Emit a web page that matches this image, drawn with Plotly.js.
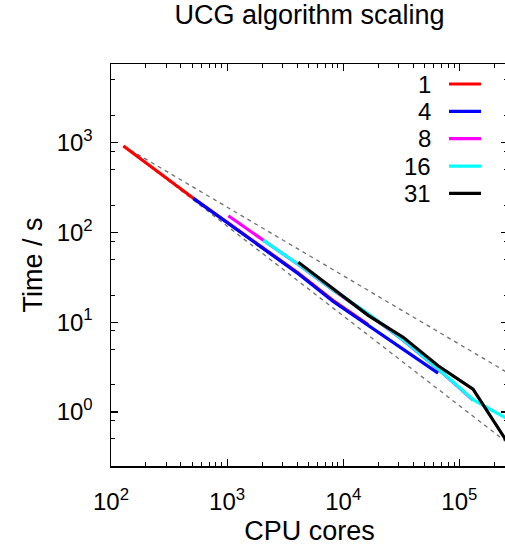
<!DOCTYPE html>
<html>
<head>
<meta charset="utf-8">
<script src="https://cdn.plot.ly/plotly-3.0.1.min.js"></script>
<style>
html, body { margin: 0; padding: 0; overflow: hidden; background: #fff; width: 505px; height: 546px; }
#chart { width: 516px; height: 546px; }
</style>
</head>
<body>
<div id="chart"></div>
<script>
// ---- data ----
const seriesNames = ["1", "4", "8", "16", "31"];
const seriesColors = ["#ff0000", "#0000ff", "#ff00ff", "#00ffff", "#000000"];

const coresS1 = [128, 256, 512, 1024, 2048, 4096, 8192, 16384];
const timeS1  = [917, 468, 240, 127, 67.5, 35.2, 17.4, 9.4];

const coresS4 = [512, 1024, 2048, 4096, 8192, 16384, 32768, 65536];
const timeS4  = [239, 126, 66.4, 34.6, 17.0, 9.2, 5.05, 2.71];

const coresS8 = [1024, 2048, 4096, 8192, 16384, 32768, 65536, 131072];
const timeS8  = [153, 82, 43.8, 22.7, 12.3, 6.3, 3.0, 1.36];

const coresS16 = [2048, 4096, 8192, 16384, 32768, 65536, 131072, 262144];
const timeS16  = [82, 44.1, 22.9, 12.4, 6.35, 3.03, 1.37, 0.83];

const coresS31 = [4096, 8192, 16384, 32768, 65536, 131072, 262144];
const timeS31  = [46.4, 23.4, 11.9, 6.78, 3.27, 1.79, 0.448];

// reference scaling lines (dashed)
const refCores = [128, 262144];
const refIdeal = [917, 0.448];
const refUpper = [917, 2.72];

// axis ticks
const xTickVals = [100, 1000, 10000, 100000];
const xTickText = ["10<sup>2</sup>", "10<sup>3</sup>", "10<sup>4</sup>", "10<sup>5</sup>"];
const xMinorVals = [200,300,400,500,600,700,800,900,
                    2000,3000,4000,5000,6000,7000,8000,9000,
                    20000,30000,40000,50000,60000,70000,80000,90000,
                    200000];
const yTickVals = [1, 10, 100, 1000];
const yTickText = ["10<sup>0</sup>", "10<sup>1</sup>", "10<sup>2</sup>", "10<sup>3</sup>"];
const yMinorVals = [0.5, 0.8, 2, 5, 8, 20, 50, 80, 200, 500, 800, 2000, 5000];

const titleText = "UCG algorithm scaling";
const xTitle = "CPU cores";
const yTitle = "Time / s";

// ---- build ----
const FONT = "Liberation Sans, Arial, Helvetica, sans-serif";
const seriesX = [coresS1, coresS4, coresS8, coresS16, coresS31];
const seriesY = [timeS1, timeS4, timeS8, timeS16, timeS31];

const traces = [];
[refIdeal, refUpper].forEach(function (ry) {
  traces.push({
    x: refCores, y: ry, type: "scatter", mode: "lines",
    line: { color: "#707070", width: 1.3, dash: "4px,4px" },
    hoverinfo: "skip", showlegend: false
  });
});
seriesNames.forEach(function (n, i) {
  traces.push({
    x: seriesX[i], y: seriesY[i], type: "scatter", mode: "lines", name: n,
    line: { color: seriesColors[i], width: 3.2 },
    showlegend: false
  });
});

// custom gnuplot-style key: text on the left, line sample on the right
const keyTop = 0.9502, keyStep = 0.0680;
const annotations = [];
const shapes = [];
seriesNames.forEach(function (n, i) {
  const yy = keyTop - i * keyStep;
  annotations.push({
    xref: "paper", yref: "paper", x: 0.8086, y: yy,
    xanchor: "right", yanchor: "middle", showarrow: false,
    borderpad: 0,
    text: n, font: { family: FONT, size: 24, color: "#000" }
  });
  shapes.push({
    type: "line", xref: "paper", yref: "paper",
    x0: 0.8514, x1: 0.932, y0: yy, y1: yy,
    line: { color: seriesColors[i], width: 3.2 }
  });
});

const axisCommon = {
  type: "log",
  showgrid: false, zeroline: false,
  showline: true, linecolor: "#000", linewidth: 1.5, mirror: "ticks",
  ticks: "inside", ticklen: 7, tickwidth: 1.2, tickcolor: "#000",
  tickmode: "array",
  tickfont: { family: FONT, size: 24, color: "#000" },
  automargin: false
};

const layout = {
  width: 516, height: 546,
  margin: { l: 111, r: 8, t: 64, b: 80 },
  paper_bgcolor: "#fff", plot_bgcolor: "#fff",
  showlegend: false,
  title: {
    text: titleText, x: 0.5, xref: "paper", xanchor: "center",
    y: 1 - 15 / 546, yref: "container", yanchor: "middle",
    font: { family: FONT, size: 27, color: "#000" }
  },
  xaxis: Object.assign({}, axisCommon, {
    range: [2, Math.log10(262144)],
    tickvals: xTickVals, ticktext: xTickText,
    ticklabelstandoff: 14,
    minor: { tickmode: "array", tickvals: xMinorVals, ticks: "inside", ticklen: 4, tickwidth: 1, tickcolor: "#000", showgrid: false },
    title: { text: xTitle, standoff: 14, font: { family: FONT, size: 27, color: "#000" } }
  }),
  yaxis: Object.assign({}, axisCommon, {
    range: [Math.log10(0.25), Math.log10(7500)],
    tickvals: yTickVals, ticktext: yTickText,
    ticklabelstandoff: 12,
    minor: { tickmode: "array", tickvals: yMinorVals, ticks: "inside", ticklen: 4, tickwidth: 1, tickcolor: "#000", showgrid: false },
    title: { text: yTitle, standoff: 6, font: { family: FONT, size: 27, color: "#000" } }
  }),
  annotations: annotations,
  shapes: shapes
};

Plotly.newPlot("chart", traces, layout, { displayModeBar: false, staticPlot: true });
</script>
</body>
</html>
